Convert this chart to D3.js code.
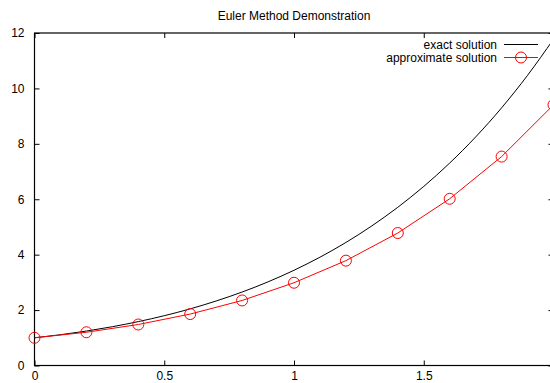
<!DOCTYPE html>
<html lang="en">
<head>
<meta charset="utf-8">
<title>Euler Method Demonstration</title>
<script src="https://d3js.org/d3.v7.min.js"></script>
<style>
  body { margin: 0; background: #fff; }
  svg { display: block; font-family: "Liberation Sans", Arial, sans-serif; }
  .tick text { font-size: 12px; fill: #000; }
</style>
</head>
<body>
<script>
// exact solution sampled every 0.1
var exactX = [0, 0.1, 0.2, 0.3, 0.4, 0.5, 0.6, 0.7, 0.8, 0.9, 1.0,
              1.1, 1.2, 1.3, 1.4, 1.5, 1.6, 1.7, 1.8, 1.9, 2.0];
var exactY = [1.000, 1.110, 1.243, 1.400, 1.584, 1.797, 2.044, 2.328, 2.651, 3.019, 3.437,
              3.908, 4.440, 5.039, 5.710, 6.463, 7.306, 8.248, 9.299, 10.472, 11.778];
// euler steps, h = 0.2
var approxX = [0, 0.2, 0.4, 0.6, 0.8, 1.0, 1.2, 1.4, 1.6, 1.8, 2.0];
var approxY = [1.000, 1.200, 1.480, 1.856, 2.347, 2.987, 3.784, 4.781, 6.017, 7.540, 9.408];
var xTicks = [0, 0.5, 1, 1.5, 2];
var xLabels = [0, 0.5, 1, 1.5];   // the "2" label falls outside the window
var yTicks = [0, 2, 4, 6, 8, 10, 12];

var w = 550, h = 383;
var m = {left: 34.5, right: 553.5, top: 33, bottom: 365.5};

var svg = d3.select("body").append("svg")
    .attr("width", w)
    .attr("height", h);

var x = d3.scaleLinear().domain([0, 2]).range([m.left, m.right]);
var y = d3.scaleLinear().domain([0, 12]).range([m.bottom, m.top]);

// axes, gnuplot style: ticks inward, mirrored
svg.append("g")
    .attr("transform", "translate(0," + m.bottom + ")")
    .call(d3.axisBottom(x).tickValues(xTicks).tickSizeInner(-5).tickSizeOuter(0).tickPadding(5.5)
        .tickFormat(d => xLabels.indexOf(d) >= 0 ? d3.format("")(d) : ""))
    .call(g => g.select(".domain").remove());
svg.append("g")
    .attr("transform", "translate(0," + m.top + ")")
    .call(d3.axisTop(x).tickValues(xTicks).tickSizeInner(-5).tickSizeOuter(0).tickFormat(""))
    .call(g => g.select(".domain").remove());
svg.append("g")
    .attr("transform", "translate(" + m.left + ",0)")
    .call(d3.axisLeft(y).tickValues(yTicks).tickSizeInner(-5).tickSizeOuter(0).tickPadding(10))
    .call(g => g.select(".domain").remove());
svg.append("g")
    .attr("transform", "translate(" + m.right + ",0)")
    .call(d3.axisRight(y).tickValues(yTicks).tickSizeInner(-5).tickSizeOuter(0).tickFormat(""))
    .call(g => g.select(".domain").remove());

svg.selectAll(".tick line").attr("stroke", "#000");

// frame
svg.append("rect")
    .attr("x", m.left).attr("y", m.top)
    .attr("width", m.right - m.left).attr("height", m.bottom - m.top)
    .attr("fill", "none").attr("stroke", "#000").attr("stroke-width", 1.2);

var exact = exactX.map((v, i) => [v, exactY[i]]);
var approx = approxX.map((v, i) => [v, approxY[i]]);

svg.append("path")
    .attr("d", d3.line().x(d => x(d[0])).y(d => y(d[1])).curve(d3.curveMonotoneX)(exact))
    .attr("fill", "none").attr("stroke", "#000").attr("stroke-width", 1);

svg.append("path")
    .attr("d", d3.line().x(d => x(d[0])).y(d => y(d[1]))(approx))
    .attr("fill", "none").attr("stroke", "#f00").attr("stroke-width", 1);

svg.selectAll("circle.pt")
    .data(approx)
    .enter().append("circle")
    .attr("class", "pt")
    .attr("cx", d => x(d[0]))
    .attr("cy", d => y(d[1]))
    .attr("r", 5.5)
    .attr("fill", "none").attr("stroke", "#f00").attr("stroke-width", 1);

// title
svg.append("text")
    .attr("x", (m.left + m.right) / 2).attr("y", 20)
    .attr("text-anchor", "middle")
    .attr("font-size", 12)
    .text("Euler Method Demonstration");

// legend
var legend = [
    {label: "exact solution", color: "#000", marker: false},
    {label: "approximate solution", color: "#f00", marker: true}
];
var lg = svg.selectAll("g.legend")
    .data(legend)
    .enter().append("g")
    .attr("class", "legend")
    .attr("transform", (d, i) => "translate(0," + (44.5 + i * 13) + ")");
lg.append("text")
    .attr("x", 497).attr("y", 4)
    .attr("text-anchor", "end")
    .attr("font-size", 12)
    .text(d => d.label);
lg.append("line")
    .attr("x1", 504).attr("x2", 538)
    .attr("stroke", d => d.color).attr("stroke-width", 1);
lg.filter(d => d.marker).append("circle")
    .attr("cx", 521).attr("r", 5.5)
    .attr("fill", "none").attr("stroke", d => d.color);
</script>
</body>
</html>
